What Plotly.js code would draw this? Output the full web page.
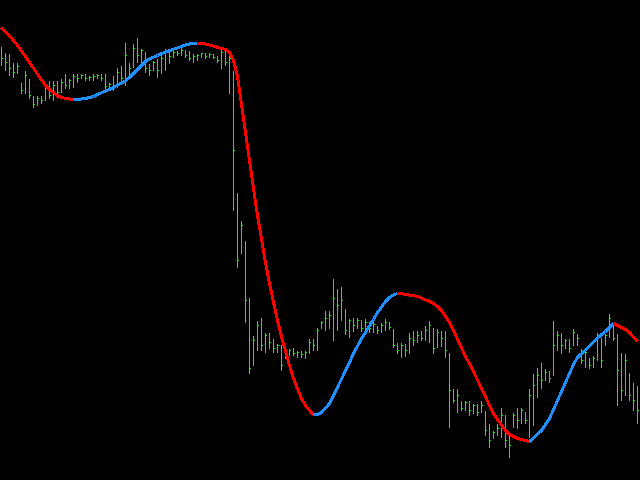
<!DOCTYPE html>
<html>
<head>
<meta charset="utf-8">
<script src="https://cdn.plot.ly/plotly-3.0.1.min.js"></script>
<style>
html,body{margin:0;padding:0;background:#000;}
#chart{width:640px;height:480px;}
#chart .ohlc path, #chart .scatterlayer path.js-line {shape-rendering: crispEdges;}
</style>
</head>
<body>
<div id="chart"></div>
<script>
const highs = [434,428,427,418,418,398,410,402,385,385,385,395,400,400,400,402,407,402,407,407,
407,407,405,407,407,407,407,398,405,413,415,438,418,437,443,432,428,417,420,422,
427,432,430,432,430,433,430,430,427,427,428,427,428,427,425,432,430,427,410,288,
260,240,183,145,160,163,148,148,142,137,135,130,132,133,130,130,130,142,142,153,
160,170,170,202,192,194,172,162,163,163,160,162,158,160,155,158,162,158,152,138,
138,137,148,150,150,150,155,160,153,152,150,150,128,92,92,80,80,80,77,77,
80,70,57,50,57,73,65,48,68,73,73,68,92,107,113,118,112,110,160,150,
148,142,142,152,147,132,133,123,125,148,142,147,167,155,147,128,127,108,98,95];
const lows = [415,410,405,403,407,387,387,382,373,375,377,380,382,380,383,388,392,392,393,398,
402,400,400,400,402,400,390,392,390,393,398,395,402,413,418,418,408,405,410,403,
407,410,417,423,425,425,423,420,418,420,423,422,423,422,418,412,415,387,270,213,
227,158,107,115,130,130,128,132,128,128,110,122,125,125,123,123,122,127,130,130,
152,150,152,140,150,160,146,143,149,152,149,150,148,148,147,148,150,151,133,127,
123,124,127,135,138,140,140,138,127,133,134,123,53,78,68,70,70,65,67,65,
68,45,33,42,45,43,33,23,53,52,57,57,43,55,83,92,100,98,105,130,
127,132,128,135,135,117,113,112,113,120,113,135,143,140,75,80,85,80,70,57];
const opens = [425,420,418,412,408,396,390,400,383,377,382,380,392,385,395,390,398,395,400,404,
403,405,402,403,404,405,402,394,396,394,408,402,405,414,432,425,428,412,410,418,
410,422,428,424,428,427,430,425,422,424,425,427,424,426,423,420,428,418,405,285,
230,235,180,120,140,155,135,145,138,132,135,125,128,130,127,128,126,128,138,135,
154,158,162,165,182,175,170,150,160,155,160,152,158,152,154,150,155,158,150,135,
130,135,130,142,140,145,142,150,150,135,148,142,125,90,80,78,72,78,70,75,
68,68,50,42,48,52,65,40,55,65,60,68,60,85,95,105,100,108,108,135,
145,135,140,138,145,130,120,122,115,122,142,137,145,152,142,110,90,105,85,80];
const closes = [422,418,412,408,414,390,405,385,376,382,380,392,385,395,388,398,395,400,404,402,
405,402,403,404,405,402,394,396,394,408,402,425,412,432,425,430,412,410,418,410,
422,428,424,428,427,430,425,422,424,425,427,424,426,423,420,428,418,422,330,220,
255,180,112,140,155,135,145,138,132,135,115,128,130,127,128,126,128,138,135,150,
158,162,165,182,175,180,150,160,155,160,152,158,152,156,150,155,158,153,135,130,
135,130,142,140,145,142,150,155,132,148,142,130,90,80,85,72,78,70,75,68,
75,50,40,48,52,65,40,35,65,60,70,60,85,95,105,100,108,102,135,145,
135,140,132,148,142,120,128,115,122,142,120,145,162,142,110,90,120,85,80,70];
const smooth = [453,449,445,440,435,430,424,418,412,406,400,395,391,388,385,383,382,381.2,380.7,381,
381.5,382,383,384,386,388,389.5,391,393,395,397,399.5,403,407,412,416,419,421.5,423,425,
427,428.5,430,431.5,433,434.5,435.5,436.5,437,437.2,437,436.5,435.5,434.5,433.5,432.5,431,428,420,404,
375,347,320,292,265,240,218,197,178,160,144,129,115,102,91,82,75,70,65.5,66,
68,72,77,85,93,102,110,118,127,135,142,148,154,161,168,174,179,183,185.5,187,
186.8,186.2,185.5,185,184,182.5,181,179,177,174,170,164,158,150,141,132,124,117,109,101,
93,84,75,67,61,55,50,46,44,42,41,40,39,43,46,50,56,62,71,80,
89,97,106,116,123,127,131,135,139,142,146,149,153,157,155,153,151,148,144,139];

const bars = highs.map((_, i) => i);
const traces = [{
  type: 'ohlc', x: bars, open: opens, high: highs, low: lows, close: closes,
  increasing: {line: {color: '#00ff00', width: 1}},
  decreasing: {line: {color: '#00ff00', width: 1}},
  tickwidth: 0.25, hoverinfo: 'skip'
}];

// split the smoothed line into rising (blue) and falling (red) runs
let start = 0;
for (let i = 1; i <= smooth.length; i++) {
  const end = i === smooth.length;
  const curUp = !end && smooth[i] > smooth[i - 1];
  const startUp = smooth[start + 1] > smooth[start];
  if (end || curUp !== startUp) {
    const xs = [], ys = [];
    for (let k = start; k < i; k++) { xs.push(bars[k]); ys.push(smooth[k]); }
    traces.push({type: 'scatter', mode: 'lines', x: xs, y: ys,
      line: {color: startUp ? '#1e90ff' : '#ff0000', width: 3}, hoverinfo: 'skip'});
    start = i - 1;
  }
}

const layout = {
  width: 640, height: 480,
  margin: {l: 0, r: 0, t: 0, b: 0},
  paper_bgcolor: '#000000', plot_bgcolor: '#000000',
  showlegend: false,
  xaxis: {range: [-0.375, 159.625], visible: false, rangeslider: {visible: false}, fixedrange: true},
  yaxis: {range: [0.5, 480.5], visible: false, fixedrange: true}
};
Plotly.newPlot('chart', traces, layout, {displayModeBar: false, staticPlot: true});
</script>
</body>
</html>
